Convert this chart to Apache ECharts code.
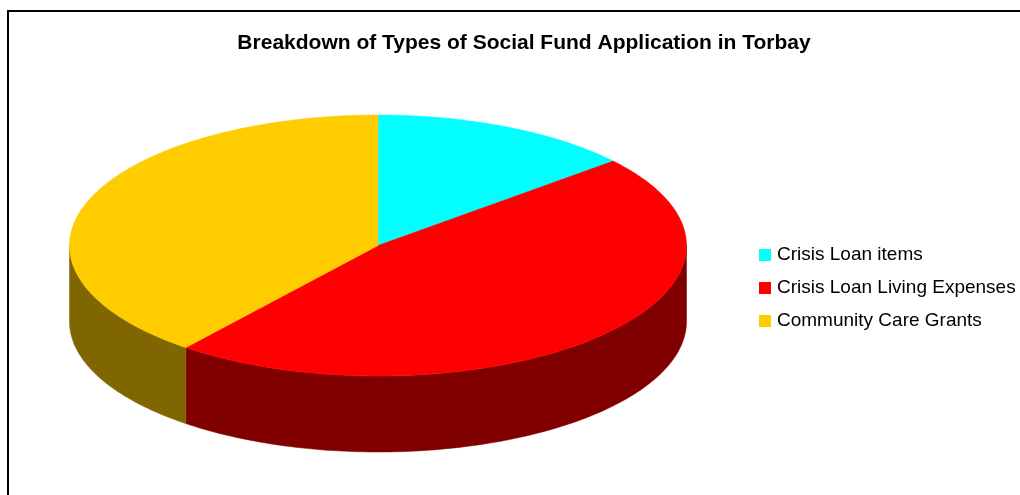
<!DOCTYPE html>
<html>
<head>
<meta charset="utf-8">
<script src="https://cdn.jsdelivr.net/npm/echarts@6/dist/echarts.min.js"></script>
<style>
  html, body { margin: 0; padding: 0; background: #fff; }
  #main { width: 1020px; height: 495px; }
</style>
</head>
<body>
<div id="main"></div>
<script>
// 数据
var categories = ['Crisis Loan items', 'Crisis Loan Living Expenses', 'Community Care Grants'];
var values = [13.8, 46.9, 39.3];
var topColors = ['#00FFFF', '#FF0000', '#FFCC00'];
var sideColors = ['#008080', '#800000', '#806600'];

// 饼图几何 (3D 椭圆)
var cx = 378, cy = 245.5, rx = 308.5, ry = 130.5, depth = 76;

var total = values.reduce(function (a, b) { return a + b; }, 0);

function pt(t, dy) {
  return [cx + rx * Math.sin(t), cy - ry * Math.cos(t) + (dy || 0)];
}

function arc(a, b, dy) {
  var pts = [];
  var n = Math.max(2, Math.ceil((b - a) / (Math.PI / 180)));
  for (var i = 0; i <= n; i++) {
    pts.push(pt(a + (b - a) * i / n, dy));
  }
  return pts;
}

function renderSlice(params, api) {
  var idx = params.seriesIndex;
  var start = 0;
  for (var i = 0; i < idx; i++) start += values[i];
  var a = start / total * Math.PI * 2;
  var b = (start + api.value(0)) / total * Math.PI * 2;
  var children = [];

  // 侧面 (只画前半部分)
  var s = Math.max(a, Math.PI / 2), e = Math.min(b, Math.PI * 1.5);
  if (e > s) {
    var side = arc(s, e, 0).concat(arc(s, e, depth).reverse());
    children.push({
      type: 'polygon',
      shape: { points: side },
      style: { fill: sideColors[idx], stroke: sideColors[idx], lineWidth: 0.5 }
    });
  }
  // 顶面
  var top = [[cx, cy]].concat(arc(a, b, 0));
  children.push({
    type: 'polygon',
    shape: { points: top },
    style: { fill: topColors[idx], stroke: topColors[idx], lineWidth: 0.5 }
  });
  return { type: 'group', children: children };
}

var series = categories.map(function (name, i) {
  return {
    name: name,
    type: 'custom',
    coordinateSystem: 'none',
    silent: true,
    itemStyle: { color: topColors[i] },
    renderItem: renderSlice,
    data: [[values[i]]]
  };
});

var chart = echarts.init(document.getElementById('main'), null, { renderer: 'canvas' });
chart.setOption({
  animation: false,
  backgroundColor: '#ffffff',
  title: {
    text: 'Breakdown of Types of Social Fund Application in Torbay',
    left: 519,
    top: 28,
    textAlign: 'center',
    textStyle: { fontFamily: 'Liberation Sans, Arial', fontWeight: 'bold', fontSize: 21, color: '#000' }
  },
  legend: {
    orient: 'vertical',
    left: 754,
    top: 240,
    icon: 'rect',
    itemWidth: 12,
    itemHeight: 12,
    itemGap: 13,
    selectedMode: false,
    data: categories,
    textStyle: { fontFamily: 'Liberation Sans, Arial', fontSize: 19, lineHeight: 20, color: '#000', padding: [0, 0, 0, 1] }
  },
  graphic: [{
    type: 'rect',
    silent: true,
    shape: { x: 8, y: 11, width: 1030, height: 510 },
    style: { fill: null, stroke: '#000', lineWidth: 2 }
  }],
  series: series
});
</script>
</body>
</html>
